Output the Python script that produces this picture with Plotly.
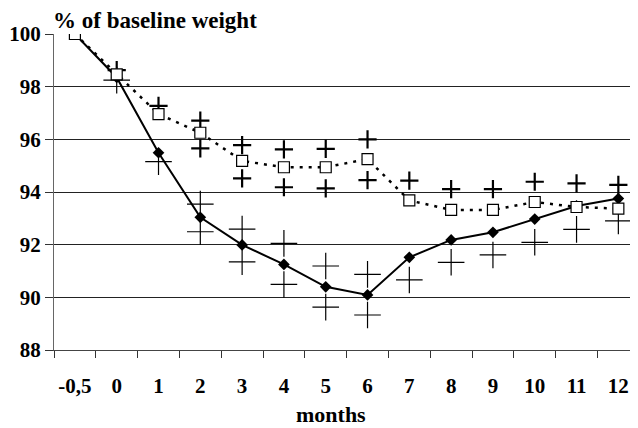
import plotly.graph_objects as go

months = ["-0,5", "0", "1", "2", "3", "4", "5", "6", "7", "8", "9", "10", "11", "12"]

# solid line, filled diamonds
group_a = [100, 98.35, 95.49, 93.04, 91.99, 91.25, 90.40, 90.09, 91.52, 92.18, 92.47, 92.97, 93.47, 93.75]
group_a_upper = [None, None, None, 93.54, 92.59, 92.05, 91.19, 90.87, None, None, None, None, None, None]
group_a_lower = [None, 98.25, 95.15, 92.49, 91.35, 90.49, 89.63, 89.33, 90.66, 91.33, 91.61, 92.09, 92.58, 92.90]

# dotted line, open squares
group_b = [100, 98.47, 96.96, 96.25, 95.18, 94.94, 94.94, 95.25, 93.68, 93.32, 93.32, 93.62, 93.43, 93.37]
group_b_upper = [None, 98.63, 97.27, 96.71, 95.78, 95.62, 95.64, 96.00, 94.43, 94.11, 94.11, 94.39, 94.33, 94.27]
group_b_lower = [None, None, None, 95.66, 94.52, 94.18, 94.14, 94.45, None, None, None, None, None, None]

y_ticks = [88, 90, 92, 94, 96, 98, 100]

FONT = "Liberation Serif"

fig = go.Figure()

# lines
fig.add_trace(go.Scatter(x=months, y=group_b, mode="lines",
                         line=dict(color="black", width=2.5, dash="3px,6px"),
                         showlegend=False, hoverinfo="skip"))
fig.add_trace(go.Scatter(x=months, y=group_a, mode="lines",
                         line=dict(color="black", width=2),
                         showlegend=False, hoverinfo="skip"))

# crosses (thin, group A)
for vals in (group_a_upper, group_a_lower):
    fig.add_trace(go.Scatter(x=months, y=vals, mode="markers",
                             marker=dict(symbol="cross-thin", size=19,
                                         line=dict(color="black", width=1.2)),
                             showlegend=False))
# crosses (bold, group B)
for vals in (group_b_upper, group_b_lower):
    fig.add_trace(go.Scatter(x=months, y=vals, mode="markers",
                             marker=dict(symbol="cross-thin", size=13,
                                         line=dict(color="black", width=2.2)),
                             showlegend=False))

# markers
fig.add_trace(go.Scatter(x=months[1:], y=group_a[1:], mode="markers",
                         marker=dict(symbol="diamond", size=9, color="black"),
                         showlegend=False))
fig.add_trace(go.Scatter(x=months, y=group_b, mode="markers",
                         marker=dict(symbol="square", size=11, color="white",
                                     line=dict(color="black", width=1.2)),
                         showlegend=False))

fig.update_layout(
    width=630, height=420,
    margin=dict(l=46, r=0, t=26, b=78, autoexpand=False),
    paper_bgcolor="white", plot_bgcolor="white",
    font=dict(family=FONT, color="black"),
    xaxis=dict(type="category", categoryorder="array", categoryarray=months,
               range=[-0.5, 13.47], tickson="boundaries", ticks="outside",
               ticklen=7, tickcolor="#333", showgrid=False, showline=True,
               linecolor="#444", linewidth=1, zeroline=False, automargin=False,
               tickangle=0,
               tickfont=dict(family=FONT, size=21, color="black", weight="bold"),
               ticklabelstandoff=17),
    yaxis=dict(range=[88, 100], tickvals=y_ticks, ticks="outside", ticklen=8,
               tickcolor="#333", showgrid=True, gridcolor="#222", gridwidth=1,
               showline=True, linecolor="#666", linewidth=1, zeroline=False,
               automargin=False,
               tickfont=dict(family=FONT, size=21, color="black", weight="bold")),
    annotations=[
        dict(text="<b>% of baseline weight</b>", xref="paper", yref="paper",
             x=0.0, y=1.0, xanchor="left", yanchor="bottom", yshift=-1, xshift=-3,
             showarrow=False, font=dict(family=FONT, size=23, color="black")),
        dict(text="<b>months</b>", xref="paper", yref="paper",
             x=(331 - 54) / 584, y=0, xanchor="center", yanchor="bottom", yshift=-79,
             showarrow=False, font=dict(family=FONT, size=22, color="black")),
    ],
)

fig.write_html("out.html")
